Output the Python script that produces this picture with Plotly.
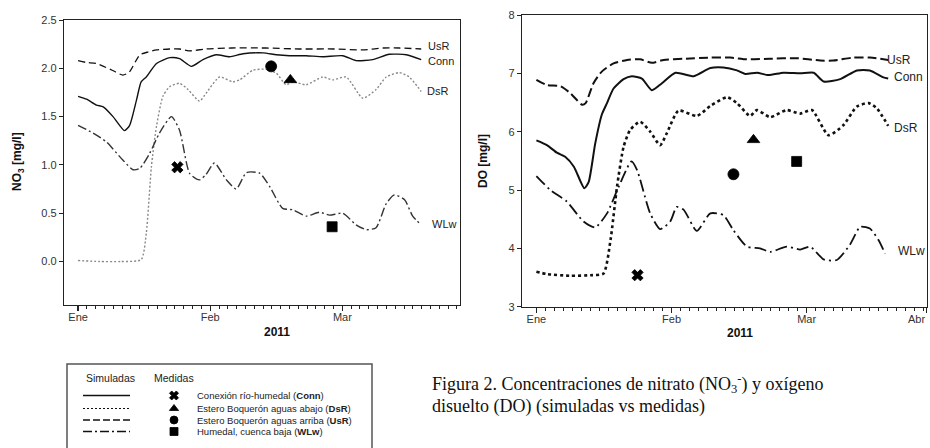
import plotly.graph_objects as go

# ---------------- data ----------------
# x in "days" from 1 Jan 2011 (axis units)
month_ticks = [0, 31, 62, 89.5]
month_labels = ["Ene", "Feb", "Mar", "Abr"]

# NO3 panel
no3_usr_x = [0, 2, 4.3, 8, 10.5, 12, 14.5, 16.5, 18.4, 21.5, 23.8, 26, 30, 36, 44, 52, 60, 66.8, 71.5, 75.4, 80.5]
no3_usr_y = [2.08, 2.06, 2.05, 1.98, 1.93, 1.96, 2.14, 2.17, 2.19, 2.2, 2.2, 2.18, 2.2, 2.21, 2.21, 2.2, 2.2, 2.19, 2.21, 2.21, 2.2]

no3_conn_x = [0, 2, 4.3, 5.9, 8.2, 10.9, 12.1, 13.7, 14.8, 16, 18.4, 21.5, 23.8, 26.6, 29.3, 32.4, 35.5, 38.7, 43.4, 46.5, 49.6, 53.5, 57.4, 62.1, 65.2, 69.1, 73, 77, 80.5]
no3_conn_y = [1.71, 1.68, 1.62, 1.60, 1.50, 1.355, 1.41, 1.67, 1.86, 1.91, 2.05, 2.11, 2.10, 2.02, 2.09, 2.14, 2.12, 2.15, 2.16, 2.14, 2.13, 2.13, 2.12, 2.13, 2.08, 2.09, 2.145, 2.14, 2.09]

no3_dsr_x = [0, 5, 10, 14.8, 16, 17.2, 18.4, 19.9, 21.5, 23.8, 25.8, 28.5, 30, 33.2, 36.3, 37.9, 41, 44.1, 46.5, 48.8, 50.4, 53.5, 57.4, 59.7, 62.9, 66.8, 69.9, 72.3, 75.4, 77.7, 80.5]
no3_dsr_y = [0.01, 0.0, 0.0, 0.02, 0.29, 0.98, 1.40, 1.71, 1.81, 1.845, 1.78, 1.66, 1.74, 1.91, 1.86, 1.88, 1.98, 1.99, 1.95, 1.83, 1.86, 1.83, 1.91, 1.88, 1.91, 1.69, 1.78, 1.91, 1.955, 1.91, 1.76]

no3_wlw_x = [0, 3.5, 6.6, 10.5, 12.9, 14.5, 16.8, 19.1, 21.9, 23.8, 26.2, 28.5, 30, 32, 34.8, 37.1, 39.5, 42.6, 44.9, 48, 50.4, 53.5, 56.6, 59, 62.1, 65.2, 67.6, 69.9, 72.3, 74.2, 76.6, 78.5, 80.5]
no3_wlw_y = [1.41, 1.33, 1.24, 1.05, 0.95, 0.965, 1.12, 1.33, 1.50, 1.36, 0.91, 0.845, 0.90, 1.02, 0.845, 0.75, 0.92, 0.915, 0.78, 0.55, 0.535, 0.47, 0.51, 0.48, 0.50, 0.38, 0.33, 0.35, 0.60, 0.69, 0.64, 0.47, 0.38]

# NO3 measured: Conn, DsR, UsR, WLw
no3_meas_x = [23.3, 49.8, 45.3, 59.6]
no3_meas_y = [0.976, 1.88, 2.02, 0.36]

# DO panel
do_usr_x = [0, 2.4, 5.5, 7.8, 10.5, 11.3, 13.1, 15, 17.7, 20.8, 23.8, 26.5, 29.2, 33.8, 39.9, 44.5, 48.3, 53.6, 59.7, 65.1, 68.1, 72.7, 76.5, 80.7]
do_usr_y = [6.89, 6.80, 6.78, 6.66, 6.46, 6.49, 6.83, 7.03, 7.17, 7.23, 7.24, 7.18, 7.23, 7.25, 7.27, 7.27, 7.24, 7.25, 7.26, 7.22, 7.22, 7.27, 7.27, 7.23]

do_conn_x = [0, 2.4, 4.7, 6.6, 8.6, 11, 12, 13.5, 15, 16.2, 17.7, 20, 21.9, 24.2, 26.5, 28.8, 31.9, 36.1, 39.9, 42.9, 46, 47.9, 50.6, 53.2, 56.7, 60.5, 63.6, 65.9, 69.7, 73.5, 76.5, 79.6, 80.7]
do_conn_y = [5.85, 5.77, 5.64, 5.57, 5.40, 5.03, 5.14, 5.80, 6.29, 6.49, 6.74, 6.90, 6.95, 6.91, 6.71, 6.83, 7.01, 6.95, 7.09, 7.10, 7.05, 6.99, 7.01, 6.97, 7.01, 7.00, 7.01, 6.86, 6.90, 7.05, 7.05, 6.93, 6.91]

do_dsr_x = [0, 2.4, 7.8, 12.4, 15.4, 17, 18.5, 20, 21.5, 23.8, 26.1, 28.4, 29.9, 32.6, 36.8, 39.9, 43.7, 46, 49, 50.6, 53.6, 57.4, 60.5, 63.2, 67, 70.4, 73.5, 76.2, 78.1, 80.7]
do_dsr_y = [3.60, 3.56, 3.53, 3.54, 3.57, 4.14, 5.06, 5.74, 6.03, 6.17, 6.00, 5.77, 5.97, 6.36, 6.27, 6.44, 6.59, 6.49, 6.27, 6.37, 6.25, 6.37, 6.31, 6.37, 5.94, 6.11, 6.43, 6.49, 6.40, 6.10]

do_wlw_x = [0, 3.2, 7, 10.8, 13.5, 16.2, 18.9, 21.8, 23.1, 26.1, 28.4, 30.7, 32.2, 33.8, 36.8, 39.9, 42.9, 45.2, 48.3, 51.3, 53.6, 57.4, 60.5, 62.8, 65.9, 68.9, 71.9, 74.3, 76.5, 78.5, 80]
do_wlw_y = [5.24, 5.00, 4.80, 4.46, 4.36, 4.60, 5.06, 5.49, 5.34, 4.60, 4.33, 4.46, 4.71, 4.66, 4.30, 4.60, 4.57, 4.31, 4.03, 4.00, 3.94, 4.03, 3.98, 4.03, 3.81, 3.80, 4.06, 4.37, 4.34, 4.14, 3.91]

# DO measured: Conn, DsR, UsR, WLw
do_meas_x = [23.2, 49.8, 45.2, 59.7]
do_meas_y = [3.54, 5.86, 5.27, 5.49]

meas_symbols = ["x", "triangle-up", "circle", "square"]
meas_sizes = [10, 11, 11, 10]

series_names = ["Conn", "DsR", "UsR", "WLw"]
legend_texts = [
    "Conexión río-humedal (<b>Conn</b>)",
    "Estero Boquerón aguas abajo (<b>DsR</b>)",
    "Estero Boquerón aguas arriba (<b>UsR</b>)",
    "Humedal, cuenca baja (<b>WLw</b>)",
]

# ---------------- figure ----------------
W, H = 930, 448
def px(x): return x / W
def py(y): return 1 - y / H

FONT = "Arial, Liberation Sans, sans-serif"
SPL = dict(shape="spline", smoothing=0.6)
MK = dict(color="#000", opacity=1, line=dict(width=0.8, color="#000"))

fig = go.Figure()

# left panel lines
fig.add_trace(go.Scatter(x=no3_usr_x, y=no3_usr_y, mode="lines", line=dict(color="#111", width=1.3, dash="7px,4px", **SPL), xaxis="x", yaxis="y"))
fig.add_trace(go.Scatter(x=no3_conn_x, y=no3_conn_y, mode="lines", line=dict(color="#111", width=1.4, **SPL), xaxis="x", yaxis="y"))
fig.add_trace(go.Scatter(x=no3_dsr_x, y=no3_dsr_y, mode="lines", line=dict(color="#888", width=1.4, dash="2px,2px", **SPL), xaxis="x", yaxis="y"))
fig.add_trace(go.Scatter(x=no3_wlw_x, y=no3_wlw_y, mode="lines", line=dict(color="#333", width=1.4, dash="9px,3px,2px,3px", **SPL), xaxis="x", yaxis="y"))
fig.add_trace(go.Scatter(x=no3_meas_x, y=no3_meas_y, mode="markers",
                         marker=dict(symbol=meas_symbols, size=meas_sizes, **MK), xaxis="x", yaxis="y"))

# right panel lines
fig.add_trace(go.Scatter(x=do_usr_x, y=do_usr_y, mode="lines", line=dict(color="#111", width=2, dash="9px,4px", **SPL), xaxis="x2", yaxis="y2"))
fig.add_trace(go.Scatter(x=do_conn_x, y=do_conn_y, mode="lines", line=dict(color="#111", width=2, **SPL), xaxis="x2", yaxis="y2"))
fig.add_trace(go.Scatter(x=do_dsr_x, y=do_dsr_y, mode="lines", line=dict(color="#111", width=2.6, dash="3px,3px", **SPL), xaxis="x2", yaxis="y2"))
fig.add_trace(go.Scatter(x=do_wlw_x, y=do_wlw_y, mode="lines", line=dict(color="#111", width=1.8, dash="12px,4px,2px,4px", **SPL), xaxis="x2", yaxis="y2"))
fig.add_trace(go.Scatter(x=do_meas_x, y=do_meas_y, mode="markers",
                         marker=dict(symbol=meas_symbols, size=meas_sizes, **MK), xaxis="x2", yaxis="y2"))

# dummy invisible traces so the minor-tick overlay axes get drawn
fig.add_trace(go.Scatter(x=[0], y=[0], mode="markers", marker=dict(opacity=0), xaxis="x4", yaxis="y", hoverinfo="skip"))
fig.add_trace(go.Scatter(x=[0], y=[5], mode="markers", marker=dict(opacity=0), xaxis="x5", yaxis="y2", hoverinfo="skip"))

# series end labels
no3_label_y = [2.075, 1.77, 2.23, 0.39]
no3_label_x = [81.7, 81.5, 81.7, 82.5]
do_label_y = [6.93, 6.07, 7.23, 3.96]
do_label_x = [81.6, 81.5, 79.9, 82.4]
annotations = []
for n, xx, yy in zip(series_names, no3_label_x, no3_label_y):
    annotations.append(dict(x=xx, y=yy, xref="x", yref="y", text=n, showarrow=False, xanchor="left", yanchor="middle",
                            font=dict(family=FONT, size=11, color="#222")))
for n, xx, yy in zip(series_names, do_label_x, do_label_y):
    annotations.append(dict(x=xx, y=yy, xref="x2", yref="y2", text=n, showarrow=False, xanchor="left", yanchor="middle",
                            font=dict(family=FONT, size=12, color="#222")))

# axis titles
annotations += [
    dict(x=px(18), y=py(162), xref="paper", yref="paper", text="<b>NO<sub>3</sub> [mg/l]</b>", textangle=-90,
         showarrow=False, xanchor="center", yanchor="middle", font=dict(family=FONT, size=12, color="#111")),
    dict(x=px(483), y=py(161), xref="paper", yref="paper", text="<b>DO [mg/l]</b>", textangle=-90,
         showarrow=False, xanchor="center", yanchor="middle", font=dict(family=FONT, size=12, color="#111")),
    dict(x=px(277), y=py(332), xref="paper", yref="paper", text="<b>2011</b>",
         showarrow=False, xanchor="center", yanchor="middle", font=dict(family=FONT, size=12, color="#111")),
    dict(x=px(740), y=py(333), xref="paper", yref="paper", text="<b>2011</b>",
         showarrow=False, xanchor="center", yanchor="middle", font=dict(family=FONT, size=12, color="#111")),
    # last month label of the right panel sits at the frame edge, shifted inwards
    dict(x=px(927), y=py(319), xref="paper", yref="paper", text=month_labels[3],
         showarrow=False, xanchor="right", yanchor="middle", font=dict(family=FONT, size=11, color="#333")),
]

# legend box text
annotations += [
    dict(x=px(84), y=py(378), xref="paper", yref="paper", text="Simuladas", xanchor="left", yanchor="middle",
         showarrow=False, font=dict(family=FONT, size=10.5, color="#222")),
    dict(x=px(152), y=py(378), xref="paper", yref="paper", text="Medidas", xanchor="left", yanchor="middle",
         showarrow=False, font=dict(family=FONT, size=10.5, color="#222")),
]
leg_rows_y = [395.5, 408.5, 420, 431.5]
for t, yy in zip(legend_texts, leg_rows_y):
    annotations.append(dict(x=px(195), y=py(yy), xref="paper", yref="paper", text=t, xanchor="left", yanchor="middle",
                            showarrow=False, font=dict(family=FONT, size=9.5, color="#222")))

# caption
SERIF = "Liberation Serif, Times New Roman, serif"
annotations += [
    dict(x=px(430), y=py(383), xref="paper", yref="paper",
         text="Figura 2. Concentraciones de nitrato (NO<sub>3</sub><sup>-</sup>) y oxígeno",
         xanchor="left", yanchor="middle", showarrow=False, font=dict(family=SERIF, size=18, color="#111")),
    dict(x=px(430), y=py(406), xref="paper", yref="paper",
         text="disuelto (DO) (simuladas vs medidas)",
         xanchor="left", yanchor="middle", showarrow=False, font=dict(family=SERIF, size=18, color="#111")),
]

# legend box and sample lines (shapes)
shapes = [
    dict(type="rect", xref="paper", yref="paper", x0=px(67), x1=px(372), y0=py(452), y1=py(364),
         line=dict(color="#555", width=1.5), fillcolor="rgba(0,0,0,0)"),
]
leg_dash = ["solid", "2px,2px", "7px,3px", "9px,3px,2px,3px"]
leg_w = [1.6, 1.2, 1.5, 1.3]
for d, w, yy in zip(leg_dash, leg_w, leg_rows_y):
    shapes.append(dict(type="line", xref="paper", yref="paper", x0=px(83), x1=px(130), y0=py(yy), y1=py(yy),
                       line=dict(color="#111", width=w, dash=d)))

# legend markers via a hidden overlay axis
fig.add_trace(go.Scatter(x=[174, 174, 174, 174], y=leg_rows_y, mode="markers",
                         marker=dict(symbol=meas_symbols, size=[8, 8, 8, 8], **MK),
                         xaxis="x3", yaxis="y3", hoverinfo="skip"))

XR = [-3.3, 89.6]
minor_ticks = [i * 31 / 15 for i in range(0, 44)]

axis_common = dict(showgrid=False, zeroline=False, ticks="outside", tickcolor="#222", automargin=False,
                   tickfont=dict(family=FONT, size=11, color="#333"))
frame = dict(showline=True, linecolor="#222", linewidth=1.2, mirror=True)

fig.update_layout(
    width=W, height=H, margin=dict(l=0, r=0, t=0, b=0, autoexpand=False),
    paper_bgcolor="white", plot_bgcolor="rgba(0,0,0,0)", showlegend=False, hovermode=False,
    xaxis=dict(domain=[px(64), px(460)], range=XR, anchor="y", tickmode="array",
               tickvals=month_ticks[:3], ticktext=month_labels[:3], ticklen=5, tickwidth=1.2,
               ticklabelstandoff=-3, **frame, **axis_common),
    xaxis4=dict(overlaying="x", anchor="y", side="bottom", range=XR, tickmode="array", tickvals=minor_ticks,
                showticklabels=False, ticklen=3, tickwidth=1, showline=False, **axis_common),
    yaxis=dict(domain=[py(305), py(20)], range=[-0.45, 2.5], anchor="x", tickmode="array",
               tickvals=[0, 0.5, 1.0, 1.5, 2.0, 2.5], ticktext=["0.0", "0.5", "1.0", "1.5", "2.0", "2.5"],
               ticklen=4, **frame, **axis_common),
    xaxis2=dict(domain=[px(522), px(927)], range=XR, anchor="y2", tickmode="array",
                tickvals=month_ticks, ticktext=month_labels[:3] + [""], ticklen=5, tickwidth=1.2,
                ticklabelstandoff=-3, **frame, **axis_common),
    xaxis5=dict(overlaying="x2", anchor="y2", side="bottom", range=XR, tickmode="array", tickvals=minor_ticks,
                showticklabels=False, ticklen=3, tickwidth=1, showline=False, **axis_common),
    yaxis2=dict(domain=[py(306.7), py(15)], range=[3, 8], anchor="x2", tickmode="linear", tick0=3, dtick=1,
                ticklen=4, **frame, **axis_common),
    xaxis3=dict(domain=[px(67), px(372)], range=[67, 372], visible=False, anchor="y3", fixedrange=True),
    yaxis3=dict(domain=[0, py(364)], range=[H, 364], visible=False, anchor="x3", fixedrange=True),
    annotations=annotations, shapes=shapes,
)

fig.write_html("out.html", config={"displayModeBar": False, "staticPlot": True},
               post_script="document.body.style.margin='0';document.body.style.padding='0';"
                           "document.documentElement.style.overflow='hidden';")
